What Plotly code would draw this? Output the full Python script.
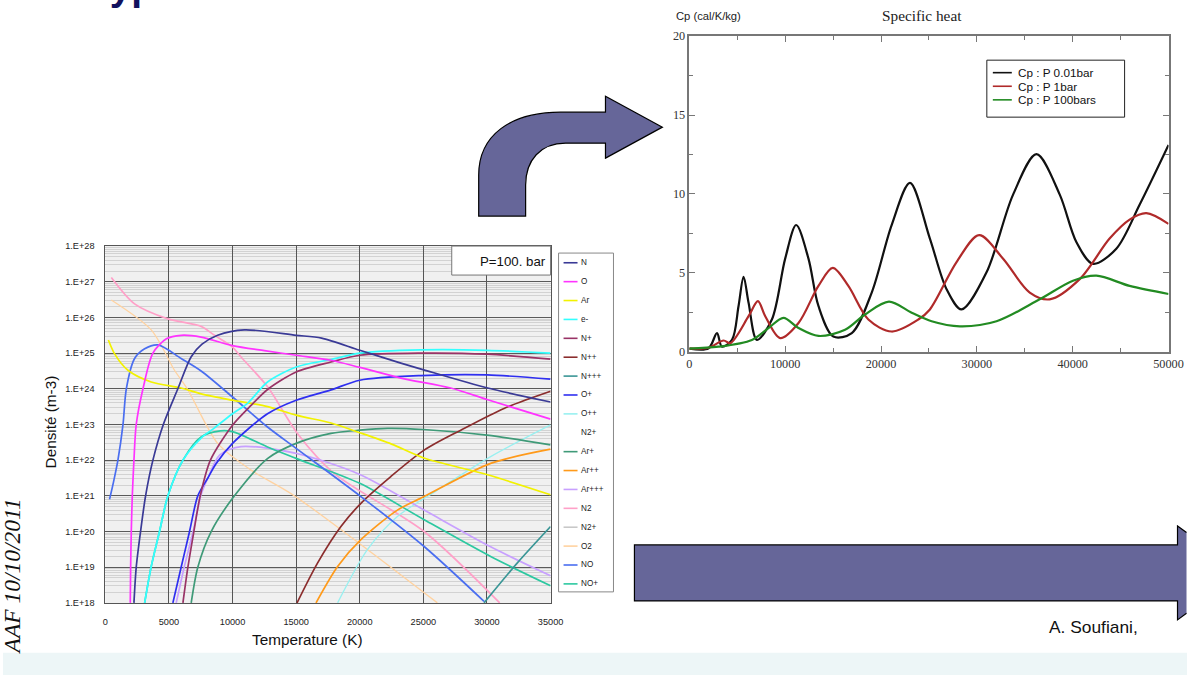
import plotly.graph_objects as go

# Page geometry: positions below are given in slide pixels (1187 x 675) and mapped
# onto the figure, which is sized to fill the photographed area.
FIG_W, FIG_H = 1203, 682
SX, SY, OX, OY = 0.9867, 0.98, 1.5, 6.8


def X(rx):
    return ((rx - OX) / SX) / FIG_W


def Y(ry):
    return 1 - ((ry - OY) / SY) / FIG_H


def P(rx, ry):
    return f"{X(rx):.5f},{Y(ry):.5f}"


def F(size):
    return round(size / SY, 2)


# ---------------- Left chart: plasma composition, P = 100 bar ----------------
species = ["N", "O", "Ar", "e-", "N+", "N++", "N+++", "O+", "O++", "N2+",
           "Ar+", "Ar++", "Ar+++", "N2", "N2+", "O2", "NO", "NO+"]
species_colors = ["#3a3a96", "#ff33ff", "#f2f200", "#33ffff", "#993366", "#8b2d2d",
                  "#3a9696", "#2f2ff0", "#99f0f0", "rgba(0,0,0,0)", "#3f9a78", "#ff9a1a",
                  "#c8a0ff", "#ffa0c8", "#c8c8c8", "#ffd2a0", "#4a6ef0", "#2cc8a0"]

T_N = [2250, 2430, 2770, 3165, 3740, 4560, 5700, 6750, 7600, 8830, 10930, 15000, 17000,
       20000, 23230, 25030, 30060, 35000]
n_N = [1e18, 1e19, 1e20, 1e21, 1e22, 1e23, 1e24, 7.94e24, 1.78e25, 3.16e25, 4.47e25,
       3.16e25, 2.63e25, 1.2e25, 5.25e24, 3.39e24, 1.05e24, 4.27e23]

T_O = [1960, 1990, 2040, 2120, 2250, 2430, 2960, 3740, 4800, 5960, 7530, 10000, 12500,
       15000, 17740, 20000, 23230, 27150, 30000, 35000]
n_O = [1e18, 1e19, 1e20, 1e21, 1e22, 1e23, 1e24, 1e25, 2.51e25, 3.16e25, 2.82e25, 1.62e25,
       1.17e25, 8.71e24, 6.31e24, 3.98e24, 2.0e24, 1.05e24, 5.01e23, 1.41e23]

T_Ar = [240, 730, 1780, 3610, 5960, 7530, 10000, 12770, 15000, 17740, 20000, 22500, 25040,
        30050, 35000]
n_Ar = [2.34e25, 9.55e24, 3.31e24, 1.55e24, 1.05e24, 7.24e23, 4.79e23, 3.16e23, 1.82e23,
        1.10e23, 5.89e22, 2.82e22, 1.15e22, 3.89e21, 1.07e21]

T_e = [3090, 3610, 4260, 4920, 6100, 7530, 8560, 10000, 11200, 12750, 15000, 17740, 20000,
       24800, 30000, 35000]
n_e = [1e18, 1.05e19, 1e20, 1e21, 1e22, 4.17e22, 7.94e22, 2.0e23, 3.98e23, 1.55e24, 4.07e24,
       6.61e24, 1e25, 1.23e25, 1.20e25, 1e25]

T_Np = [6100, 6490, 6960, 7460, 8260, 10000, 11500, 12750, 15000, 17740, 20000, 24800,
        30000, 35000]
n_Np = [1e18, 1e19, 1e20, 1e21, 1e22, 9.55e22, 3.55e23, 9.55e23, 2.95e24, 5.62e24, 8.71e24,
        1e25, 9.33e24, 6.76e24]

T_Npp = [15070, 16690, 18520, 20090, 22440, 25060, 27940, 31340, 35000]
n_Npp = [1e18, 1.32e19, 1.38e20, 6.17e20, 3.47e21, 1.91e22, 6.92e22, 2.82e23, 8.51e23]

T_Nppp = [29770, 32390, 35000]
n_Nppp = [1e18, 1.32e19, 1.38e20]

T_Op = [5310, 5960, 6620, 7270, 8060, 8700, 10000, 12750, 15000, 17740, 20000, 24800,
        30000, 35000]
n_Op = [1e18, 1e19, 1e20, 1e21, 3.16e21, 7.94e21, 2.95e22, 2.0e23, 4.79e23, 9.33e23,
        1.74e24, 2.34e24, 2.45e24, 1.86e24]

T_Opp = [18260, 20600, 22960, 26100, 30290, 35000]
n_Opp = [1e18, 3.09e19, 2.63e20, 1.45e21, 1.26e22, 9.77e22]

T_Arp = [6750, 7270, 8320, 10150, 12770, 15000, 17740, 20000, 22190, 25000, 30000, 35000]
n_Arp = [1e18, 1e19, 1e20, 1e21, 1.12e22, 2.95e22, 5.62e22, 6.92e22, 7.76e22, 7.24e22,
         5.01e22, 2.69e22]

T_Arpp = [16560, 18260, 20090, 22960, 25060, 30290, 35000]
n_Arpp = [1e18, 1.05e19, 5.89e19, 3.98e20, 9.55e20, 8.13e21, 2.04e22]

T_Arppp = [5570, 6200, 6900, 7500, 8060, 9000, 10670, 15000, 20000, 25060, 30290, 35000]
n_Arppp = [1e18, 1e19, 1e20, 1e21, 3.16e21, 1.41e22, 2.40e22, 1.55e22, 3.98e21, 3.98e20,
           3.72e19, 5.75e18]

T_N2 = [470, 2300, 4920, 7530, 8580, 10000, 10670, 12770, 15100, 17980, 25060, 31000]
n_N2 = [1.32e27, 2.40e26, 9.12e25, 5.62e25, 3.16e25, 1.48e25, 7.76e24, 1.12e24, 5.62e22,
        4.27e21, 1.0e20, 1e18]

T_O2 = [470, 3610, 5440, 6490, 8830, 11460, 14860, 26100]
n_O2 = [3.09e26, 4.47e25, 3.31e24, 9.33e23, 2.95e22, 5.25e21, 1e21, 1e18]

T_NO = [330, 650, 990, 1390, 1650, 2300, 3090, 4140, 5960, 7530, 10000, 12750, 15000,
        20090, 25060, 29770]
n_NO = [7.94e20, 2.51e21, 1e22, 1e23, 1e24, 7.08e24, 1.32e25, 1.70e25, 7.08e24, 3.16e24,
        5.89e23, 8.51e22, 2.14e22, 9.55e20, 3.80e19, 1.10e18]

T_NOp = [3090, 3610, 4260, 4920, 6100, 7530, 9040, 10000, 12750, 15000, 20000, 25060,
         30290, 35000]
n_NOp = [1e18, 1.05e19, 1e20, 1e21, 1e22, 4.47e22, 6.61e22, 6.31e22, 2.34e22, 1.12e22,
         2.24e21, 2.14e20, 2.0e19, 3.02e18]

left_series = {
    0: (T_N, n_N), 1: (T_O, n_O), 2: (T_Ar, n_Ar), 3: (T_e, n_e), 4: (T_Np, n_Np),
    5: (T_Npp, n_Npp), 6: (T_Nppp, n_Nppp), 7: (T_Op, n_Op), 8: (T_Opp, n_Opp),
    10: (T_Arp, n_Arp), 11: (T_Arpp, n_Arpp), 12: (T_Arppp, n_Arppp), 13: (T_N2, n_N2),
    15: (T_O2, n_O2), 16: (T_NO, n_NO), 17: (T_NOp, n_NOp),
}
draw_order = [15, 13, 8, 12, 17, 10, 11, 5, 6, 16, 2, 7, 4, 3, 1, 0]

temp_ticks = [0, 5000, 10000, 15000, 20000, 25000, 30000, 35000]
dens_ticks = [1e18, 1e19, 1e20, 1e21, 1e22, 1e23, 1e24, 1e25, 1e26, 1e27, 1e28]
dens_labels = ["1.E+18", "1.E+19", "1.E+20", "1.E+21", "1.E+22", "1.E+23", "1.E+24",
               "1.E+25", "1.E+26", "1.E+27", "1.E+28"]

# ---------------- Right chart: specific heat ----------------
cp_names = ["Cp : P 0.01bar", "Cp : P 1bar", "Cp : P 100bars"]
cp_colors = ["#111111", "#b02a2a", "#228b22"]

T_cp001 = [0, 2010, 2885, 3400, 4450, 5135, 5660, 6180, 7050, 8610, 10000, 11150, 12430,
           13470, 15030, 16950, 19030, 21110, 23020, 25100, 26840, 28400, 31010, 33780,
           36220, 38650, 40380, 42120, 44550, 46980, 50000]
cp_001 = [0.2, 0.22, 1.18, 0.32, 0.75, 2.9, 4.75, 3.1, 0.75, 2.04, 5.9, 8.03, 5.9, 2.9,
          0.96, 1.18, 3.75, 8.03, 10.7, 7.17, 3.96, 2.68, 5.03, 9.96, 12.52, 9.96, 6.96,
          5.57, 6.53, 9.31, 13.1]

T_cp1 = [0, 2010, 3575, 4270, 6180, 7155, 7920, 9480, 11390, 13470, 14970, 16590, 18680,
         21110, 23890, 25100, 27880, 30240, 32740, 35520, 37600, 40730, 43850, 45940,
         47680, 50000]
cp_1 = [0.2, 0.25, 0.71, 0.54, 2.25, 3.21, 2.25, 0.86, 1.82, 4.17, 5.31, 4.17, 2.04, 1.28,
        2.04, 2.68, 5.68, 7.39, 5.89, 3.75, 3.32, 4.6, 7.17, 8.37, 8.78, 8.1]

T_cp100 = [0, 3050, 6530, 8260, 9820, 11390, 13470, 16250, 18330, 20830, 23200, 25280,
           28230, 32050, 36560, 40030, 42470, 45940, 50000]
cp_100 = [0.2, 0.32, 0.75, 1.5, 2.14, 1.5, 1.0, 1.39, 2.36, 3.17, 2.47, 1.93, 1.61, 1.93,
          3.32, 4.5, 4.82, 4.17, 3.66]

cp_series = [(T_cp001, cp_001), (T_cp1, cp_1), (T_cp100, cp_100)]

fig = go.Figure()

for idx in draw_order:
    tx, ny = left_series[idx]
    faint = idx in (15, 8)
    fig.add_trace(go.Scatter(
        x=tx, y=ny, mode="lines", name=species[idx], showlegend=False,
        line=dict(color=species_colors[idx], width=1.3 if faint else 1.7,
                  shape="spline", smoothing=0.8),
        xaxis="x", yaxis="y", hoverinfo="skip"))

for (tx, cy), nm, col in zip(cp_series, cp_names, cp_colors):
    fig.add_trace(go.Scatter(
        x=tx, y=cy, mode="lines", name=nm, showlegend=False,
        line=dict(color=col, width=2.2, shape="spline", smoothing=0.9),
        xaxis="x2", yaxis="y2", hoverinfo="skip"))

sans = "Liberation Sans, Arial, sans-serif"
serif = "Liberation Serif, Times New Roman, serif"

shapes = []
annotations = []

# gray plotting background of the composition chart
shapes.append(dict(type="rect", xref="x domain", yref="y domain", x0=0, x1=1, y0=0, y1=1,
                   fillcolor="#f0f0f0", line=dict(width=0), layer="below"))

# light band at the bottom of the slide
shapes.append(dict(type="rect", xref="paper", yref="paper", x0=0, x1=1, y0=0, y1=Y(653),
                   fillcolor="#edf6f7", line=dict(width=0), layer="below"))

# curved arrow
curved = ("M" + P(478, 216) + " L" + P(478, 175) + " C" + P(478, 135) + " " + P(510, 112) +
          " " + P(560, 112) + " L" + P(605, 112) + " L" + P(605, 96) + " L" + P(662, 127) +
          " L" + P(605, 158) + " L" + P(605, 143) + " L" + P(565, 143) + " C" + P(540, 143) +
          " " + P(525, 160) + " " + P(525, 185) + " L" + P(525, 216) + " Z")
shapes.append(dict(type="path", xref="paper", yref="paper", path=curved,
                   fillcolor="#666699", line=dict(color="#000000", width=1.2)))

# big straight arrow (its head is cut by the right edge of the slide)
straight_fill = ("M" + P(634, 545) + " L" + P(1178, 545) + " L" + P(1178, 526) + " L" +
                 P(1187, 532.6) + " L" + P(1187, 613.4) + " L" + P(1178, 620) + " L" +
                 P(1178, 601) + " L" + P(634, 601) + " Z")
shapes.append(dict(type="path", xref="paper", yref="paper", path=straight_fill,
                   fillcolor="#666699", line=dict(width=0)))
straight_edge = ("M" + P(1187, 532.6) + " L" + P(1178, 526) + " L" + P(1178, 545) + " L" +
                 P(634, 545) + " L" + P(634, 601) + " L" + P(1178, 601) + " L" +
                 P(1178, 620) + " L" + P(1187, 613.4))
shapes.append(dict(type="path", xref="paper", yref="paper", path=straight_edge,
                   line=dict(color="#000000", width=1.2)))

# P=100 bar box
shapes.append(dict(type="rect", xref="paper", yref="paper", x0=X(451), x1=X(550),
                   y0=Y(275), y1=Y(246), fillcolor="white", line=dict(color="#777", width=1)))
annotations.append(dict(xref="paper", yref="paper", x=X(547), y=Y(261), text="P=100. bar",
                        showarrow=False, xanchor="right", yanchor="middle",
                        font=dict(family=sans, size=F(13), color="#111")))

# left legend
shapes.append(dict(type="rect", xref="paper", yref="paper", x0=X(558), x1=X(613),
                   y0=Y(592), y1=Y(253), fillcolor="white", line=dict(color="#888", width=1)))
for i, (nm, col) in enumerate(zip(species, species_colors)):
    yy = 262.7 + 18.9 * i
    shapes.append(dict(type="line", xref="paper", yref="paper", x0=X(563), x1=X(577),
                       y0=Y(yy), y1=Y(yy), line=dict(color=col, width=1.6)))
    annotations.append(dict(xref="paper", yref="paper", x=X(578), y=Y(yy), text=nm,
                            showarrow=False, xanchor="left", yanchor="middle",
                            font=dict(family=sans, size=F(8), color="#222")))

# Cp legend
shapes.append(dict(type="rect", xref="paper", yref="paper", x0=X(987), x1=X(1125),
                   y0=Y(117), y1=Y(60), fillcolor="white", line=dict(color="#222", width=1)))
for i, (nm, col) in enumerate(zip(cp_names, cp_colors)):
    yy = 72.5 + 13.6 * i
    shapes.append(dict(type="line", xref="paper", yref="paper", x0=X(993), x1=X(1012),
                       y0=Y(yy), y1=Y(yy), line=dict(color=col, width=1.6)))
    annotations.append(dict(xref="paper", yref="paper", x=X(1016), y=Y(yy), text=nm,
                            showarrow=False, xanchor="left", yanchor="middle",
                            font=dict(family=sans, size=F(11.5), color="#111")))

# texts
annotations += [
    dict(xref="paper", yref="paper", x=X(50), y=Y(422), text="Densité (m-3)", textangle=-90,
         showarrow=False, xanchor="center", yanchor="middle",
         font=dict(family=sans, size=F(15), color="#111")),
    dict(xref="paper", yref="paper", x=X(307), y=Y(640), text="Temperature (K)",
         showarrow=False, xanchor="center", yanchor="middle",
         font=dict(family=sans, size=F(15), color="#111")),
    dict(xref="paper", yref="paper", x=X(708), y=Y(16), text="Cp (cal/K/kg)",
         showarrow=False, xanchor="center", yanchor="middle",
         font=dict(family=sans, size=F(11), color="#222")),
    dict(xref="paper", yref="paper", x=X(922), y=Y(15), text="Specific heat",
         showarrow=False, xanchor="center", yanchor="middle",
         font=dict(family=serif, size=F(15), color="#222")),
    dict(xref="paper", yref="paper", x=X(1047), y=Y(627), text="A. Soufiani,",
         showarrow=False, xanchor="left", yanchor="middle",
         font=dict(family=sans, size=F(17), color="#111")),
    dict(xref="paper", yref="paper", x=X(10), y=Y(576), text="AAF 10/10/2011", textangle=-90,
         showarrow=False, xanchor="center", yanchor="middle",
         font=dict(family=serif, size=F(23), color="#111", style="italic")),
    dict(xref="paper", yref="paper", x=X(86), y=Y(-14), text="<b>Typical results</b>",
         showarrow=False, xanchor="left", yanchor="middle",
         font=dict(family=sans, size=F(38), color="#12125e")),
]

fig.update_layout(
    width=FIG_W, height=FIG_H, margin=dict(l=0, r=0, t=0, b=0), autosize=False,
    paper_bgcolor="white", plot_bgcolor="white", showlegend=False, hovermode=False,
    shapes=shapes, annotations=annotations,
    xaxis=dict(domain=[X(104), X(550)], range=[0, 35000], tickvals=temp_ticks,
               ticktext=[str(v) for v in temp_ticks], showgrid=True, gridcolor="#555",
               gridwidth=1, showline=True, linecolor="#555", mirror=True, zeroline=False,
               ticks="", ticklabelstandoff=10, anchor="y",
               tickfont=dict(family=sans, size=F(9), color="#222")),
    yaxis=dict(domain=[Y(603), Y(246)], type="log", range=[18, 28], tickvals=dens_ticks,
               ticktext=dens_labels, showgrid=True, gridcolor="#5a5a5a", gridwidth=1.3,
               showline=True, linecolor="#555", mirror=True, zeroline=False, ticks="",
               ticklabelstandoff=8, anchor="x",
               minor=dict(dtick="D1", showgrid=True, gridcolor="#d2d2d2", gridwidth=1),
               tickfont=dict(family=sans, size=F(9), color="#222")),
    xaxis2=dict(domain=[X(689), X(1169)], range=[0, 50000], dtick=10000, tick0=0,
                tickformat="d",
                showgrid=False, zeroline=False, showline=True, linecolor="#777",
                linewidth=1.5, mirror="ticks", ticks="inside", ticklen=6, tickcolor="#777",
                minor=dict(dtick=5000, ticks="inside", ticklen=4, tickcolor="#777"),
                anchor="y2", tickfont=dict(family=serif, size=F(12), color="#333")),
    yaxis2=dict(domain=[Y(351.7), Y(36)], range=[0, 20], dtick=5, tick0=0,
                showgrid=False, zeroline=False, showline=True, linecolor="#777",
                linewidth=1.5, mirror="ticks", ticks="inside", ticklen=6, tickcolor="#777",
                minor=dict(dtick=2.5, ticks="inside", ticklen=4, tickcolor="#777"),
                anchor="x2", tickfont=dict(family=serif, size=F(12), color="#333")),
)

pin_to_corner = (
    "document.documentElement.style.margin='0';document.body.style.margin='0';"
    "document.documentElement.style.overflow='hidden';document.body.style.overflow='hidden';"
    "var gd=document.getElementById('{plot_id}');"
    "gd.style.position='fixed';gd.style.left='0px';gd.style.top='0px';"
)

fig.write_html("out.html", config={"displayModeBar": False}, post_script=pin_to_corner)
